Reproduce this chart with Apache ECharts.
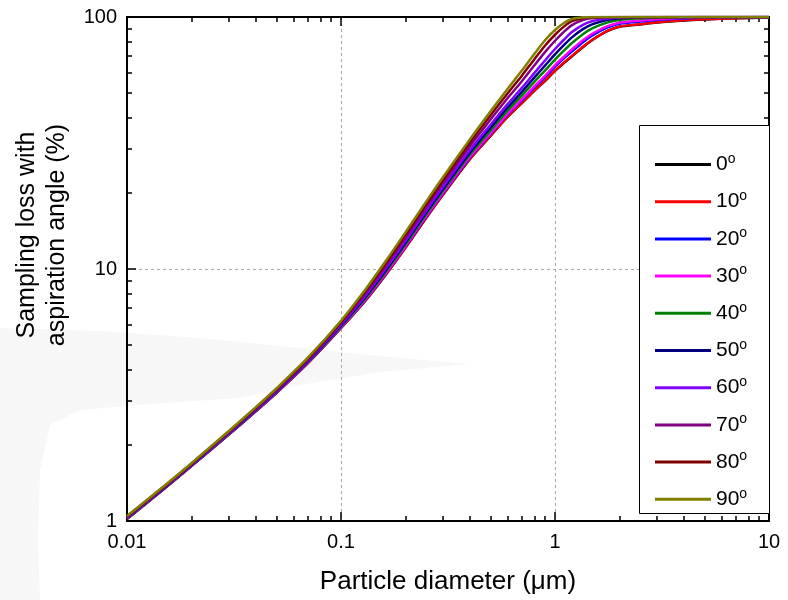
<!DOCTYPE html>
<html><head><meta charset="utf-8">
<script src="https://cdn.jsdelivr.net/npm/echarts@6/dist/echarts.min.js"></script>
<style>html,body{margin:0;padding:0;background:#fff}#c{width:788px;height:600px}</style>
</head><body><div id="c"></div>
<script>
// Particle diameter (µm)
const diameters = [0.01,0.015,0.02,0.03,0.04,0.05,0.07,0.1,0.13,0.16,0.2,0.25,0.3,0.4,0.5,0.6,0.7,0.8,0.9,1.0,1.1,1.2,1.35,1.5,1.75,2,2.5,3,4,5,7,10];
// Sampling loss (%) for each aspiration angle
const loss0  = [1.019,1.347,1.651,2.208,2.726,3.225,4.229,5.832,7.49,9.37,12.13,15.94,19.74,27.28,33.74,40.1,45.5,50.9,55.85,61.1,65.7,69.85,75.9,81.2,87.8,91.4,93.45,95.15,96.9,97.8,98.85,99.5];
const loss10 = [1.02,1.348,1.652,2.210,2.728,3.227,4.232,5.837,7.50,9.38,12.15,15.97,19.77,27.33,33.8,40.18,45.61,51.05,56.03,61.33,65.92,70.08,76.16,81.42,87.99,91.6,93.6,95.3,97.0,97.9,98.9,99.54];
const loss20 = [1.022,1.350,1.655,2.215,2.735,3.236,4.247,5.864,7.553,9.461,12.27,16.14,20.0,27.67,34.36,40.94,46.64,52.43,57.82,63.48,68.48,73.09,79.46,84.70,90.73,93.98,95.96,97.34,98.61,99.22,99.72,99.93];
const loss30 = [1.023,1.351,1.656,2.217,2.738,3.240,4.253,5.876,7.576,9.496,12.32,16.21,20.09,27.83,34.59,41.27,47.09,53.02,58.59,64.40,69.57,74.35,80.83,86.01,91.78,94.85,96.76,97.98,99.05,99.52,99.86,99.97];
const loss40 = [1.026,1.355,1.661,2.225,2.749,3.255,4.276,5.918,7.660,9.626,12.51,16.47,20.45,28.39,35.47,42.49,48.75,55.22,61.43,67.76,73.52,78.84,85.49,90.32,95.00,97.31,98.73,99.39,99.83,99.95,100,100];
const loss50 = [1.029,1.359,1.666,2.232,2.760,3.270,4.299,5.961,7.745,9.757,12.71,16.74,20.81,28.96,36.38,43.73,50.43,57.44,64.29,71.09,77.31,83.02,89.52,93.74,97.24,98.78,99.62,99.87,99.98,100,100,100];
const loss60 = [1.032,1.363,1.671,2.241,2.772,3.286,4.325,6.009,7.839,9.903,12.92,17.04,21.21,29.60,37.38,45.10,52.30,59.89,67.39,74.63,81.23,87.11,93.10,96.46,98.74,99.58,99.93,99.99,100,100,100,100];
const loss70 = [1.037,1.371,1.680,2.255,2.793,3.315,4.370,6.092,8.006,10.16,13.31,17.58,21.93,30.73,39.17,47.57,55.62,64.20,72.73,80.49,87.31,92.84,97.27,99.03,99.79,99.97,100,100,100,100,100,100];
const loss80 = [1.042,1.377,1.688,2.268,2.812,3.339,4.409,6.165,8.153,10.39,13.65,18.05,22.56,31.72,40.75,49.73,58.51,67.88,77.12,85.03,91.57,96.22,99.04,99.78,99.98,100,100,100,100,100,100,100];
const loss90 = [1.047,1.383,1.696,2.280,2.829,3.363,4.446,6.234,8.293,10.61,13.98,18.51,23.18,32.69,42.29,51.81,61.27,71.32,81.04,88.79,94.67,98.2,99.73,100,100,100,100,100,100,100,100,100];

const angleNames = ['0','10','20','30','40','50','60','70','80','90'];
const angleColors = ['#000000','#ff0000','#0000ff','#ff00ff','#008000','#000080','#8000ff','#800080','#800000','#808000'];
const lossSets = [loss0,loss10,loss20,loss30,loss40,loss50,loss60,loss70,loss80,loss90];

const xMajorTicks = [0.01,0.1,1,10];
const xTickLabels = ['0.01','0.1','1','10'];
const xMinorTicks = [0.02,0.03,0.04,0.05,0.06,0.07,0.08,0.09,0.2,0.3,0.4,0.5,0.6,0.7,0.8,0.9,2,3,4,5,6,7,8,9];
const yMajorTicks = [1,10,100];
const yTickLabels = ['1','10','100'];
const yMinorTicks = [2,3,4,5,6,7,8,9,20,30,40,50,60,70,80,90];

const FONT = '"Liberation Sans", Arial, sans-serif';
const chart = echarts.init(document.getElementById('c'), null, {renderer: 'canvas'});

function xAx(pos, ticks, len, lineShow, extra) {
  return Object.assign({
    type: 'log', logBase: 10, min: 0.01, max: 10, position: pos,
    axisLine: {show: lineShow, onZero: false, lineStyle: {color: '#000', width: 2}},
    axisTick: {show: true, inside: true, length: len, customValues: ticks, lineStyle: {color: '#000', width: 1.5}},
    axisLabel: {show: false},
    splitLine: {show: false},
    minorTick: {show: false}
  }, extra || {});
}
function yAx(pos, ticks, len, lineShow, extra) {
  return Object.assign({
    type: 'log', logBase: 10, min: 1, max: 100, position: pos,
    axisLine: {show: lineShow, onZero: false, lineStyle: {color: '#000', width: 2}},
    axisTick: {show: true, inside: true, length: len, customValues: ticks, lineStyle: {color: '#000', width: 1.5}},
    axisLabel: {show: false},
    splitLine: {show: false},
    minorTick: {show: false}
  }, extra || {});
}
function labelFor(ticks, labels) {
  return v => labels[ticks.findIndex(t => Math.abs(Math.log10(t) - Math.log10(v)) < 1e-6)];
}

const option = {
  animation: false,
  backgroundColor: '#ffffff',
  grid: {left: 127, right: 19, top: 17, bottom: 79},
  xAxis: [
    xAx('bottom', xMajorTicks, 9, true, {
      axisLabel: {show: true, customValues: xMajorTicks, margin: 11, fontSize: 20, color: '#000', fontFamily: FONT,
        formatter: labelFor(xMajorTicks, xTickLabels)},
      splitLine: {show: true, lineStyle: {type: [3, 3], color: '#a8a8a8', width: 1}},
      name: 'Particle diameter (\u03bcm)', nameLocation: 'middle', nameGap: 48,
      nameTextStyle: {fontSize: 26, color: '#000', fontFamily: FONT}
    }),
    xAx('top', xMajorTicks, 9, true),
    xAx('bottom', xMinorTicks, 5, false),
    xAx('top', xMinorTicks, 5, false)
  ],
  yAxis: [
    yAx('left', yMajorTicks, 9, true, {
      axisLabel: {show: true, customValues: yMajorTicks, margin: 10, fontSize: 20, color: '#000', fontFamily: FONT,
        formatter: labelFor(yMajorTicks, yTickLabels)},
      splitLine: {show: true, lineStyle: {type: [3, 3], color: '#a8a8a8', width: 1}},
      name: 'Sampling loss with\naspiration angle (%)', nameLocation: 'middle', nameGap: 55, nameRotate: 90,
      nameTextStyle: {fontSize: 25, lineHeight: 30, color: '#000', fontFamily: FONT, padding: [0, 0, 0, 68]}
    }),
    yAx('right', yMajorTicks, 9, true),
    yAx('left', yMinorTicks, 5, false),
    yAx('right', yMinorTicks, 5, false)
  ],
  legend: {
    orient: 'vertical', left: 650, top: 147, itemWidth: 56, itemHeight: 3, itemGap: 12.7,
    icon: 'rect',
    data: angleNames,
    formatter: n => '{n|' + n + '}{s|o}',
    textStyle: {fontFamily: FONT, color: '#000', fontSize: 21, lineHeight: 24,
      rich: {n: {fontSize: 21, fontFamily: FONT, color: '#000', lineHeight: 24},
             s: {fontSize: 14, fontFamily: FONT, color: '#000', padding: [0, 0, 11, 0]}}}
  },
  graphic: [
    {
      type: 'polygon', z: -10, silent: true,
      shape: {points: [[0,328],[100,331],[200,338],[300,348],[400,358],[470,364],
                       [380,372],[300,385],[240,398],[150,404],[80,410],[50,425],
                       [40,470],[38,540],[40,600],[0,600]]},
      style: {fill: '#f7f7f7'}
    },
    {
      type: 'rect', z: 3, shape: {x: 639.5, y: 125.5, width: 130, height: 388},
      style: {fill: '#fff', stroke: '#000', lineWidth: 1}
    }
  ],
  series: angleNames.map((n, k) => ({
    name: n, type: 'line', xAxisIndex: 0, yAxisIndex: 0,
    data: diameters.map((d, i) => [d, lossSets[k][i]]),
    symbol: 'none', smooth: 0.3, clip: true,
    color: angleColors[k],
    lineStyle: {color: angleColors[k], width: 2.5}
  }))
};
chart.setOption(option);
</script></body></html>
